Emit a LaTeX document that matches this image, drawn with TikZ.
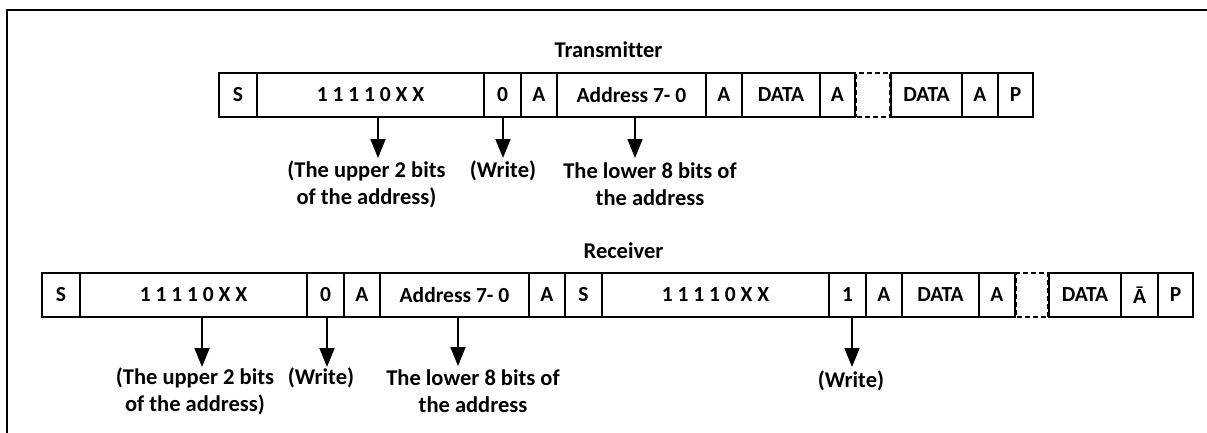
\documentclass[tikz,border=0pt]{standalone}
\usepackage{fontspec}
\setmainfont[Ligatures=CommonOff]{Carlito}
\usetikzlibrary{arrows.meta}
\newcommand\mkcell[6]{\node[cellbox, minimum width={#3-#2}, minimum height={#5-#4}] (#1) at ({(#2+#3)/2},{(#4+#5)/2}) {#6};}
\begin{document}
\begin{tikzpicture}[x=1pt,y=-1pt,
  cellbox/.style={draw, line width=1.5pt, inner sep=0pt, font=\bfseries\fontsize{21.5}{26}\selectfont},
  dashbox/.style={draw, line width=1.5pt, inner sep=0pt, dash pattern=on 5pt off 3pt},
  lbl/.style={align=center, inner sep=0pt, font=\bfseries\fontsize{22.5}{27}\selectfont},
  ttl/.style={inner sep=0pt, font=\bfseries\fontsize{22.5}{27}\selectfont},
  arr/.style={line width=1.8pt, -{Triangle[width=15pt,length=19pt]}}]
\useasboundingbox (0,0) rectangle (1207,432);
\begin{scope}
\clip (0,0) rectangle (1207,432);
\draw[line width=2pt] (7,10) rectangle (1240,470);
\end{scope}
% Transmitter
\node[ttl] (ttitle) at (608.5,50) {Transmitter};
\mkcell{t1}{219}{257}{73}{117}{S}
\mkcell{t2}{257}{484}{73}{117}{1 1 1 1 0 X X}
\mkcell{t3}{484}{521}{73}{117}{0}
\mkcell{t4}{521}{557}{73}{117}{A}
\mkcell{t5}{557}{706}{73}{117}{Address 7- 0}
\mkcell{t6}{706}{742}{73}{117}{A}
\mkcell{t7}{742}{820}{73}{117}{DATA}
\mkcell{t8}{820}{855}{73}{117}{A}
\node[dashbox, minimum width=33.5, minimum height=44] (td) at (873.25,95) {};
\mkcell{t9}{891}{962}{73}{117}{DATA}
\mkcell{t10}{962}{998}{73}{117}{A}
\mkcell{t11}{998}{1033}{73}{117}{P}
\coordinate (ta1) at (378,158);
\coordinate (ta2) at (503,158);
\coordinate (ta3) at (635,158);
\draw[arr] (t2.south -| ta1) -- (ta1);
\draw[arr] (t3.south -| ta2) -- (ta2);
\draw[arr] (t5.south -| ta3) -- (ta3);
\node[lbl] (tl1) at (366.5,184) {(The upper 2 bits\\of the address)};
\node[lbl] (tl2) at (503,171) {(Write)};
\node[lbl] (tl3) at (650,184) {The lower 8 bits of\\the address};
% Receiver
\node[ttl] (rtitle) at (623.5,251) {Receiver};
\mkcell{r1}{42}{80}{273}{317}{S}
\mkcell{r2}{80}{307}{273}{317}{1 1 1 1 0 X X}
\mkcell{r3}{307}{344}{273}{317}{0}
\mkcell{r4}{344}{380}{273}{317}{A}
\mkcell{r5}{380}{529}{273}{317}{Address 7- 0}
\mkcell{r6}{529}{565}{273}{317}{A}
\mkcell{r7}{565}{602}{273}{317}{S}
\mkcell{r8}{602}{829}{273}{317}{1 1 1 1 0 X X}
\mkcell{r9}{829}{866}{273}{317}{1}
\mkcell{r10}{866}{902}{273}{317}{A}
\mkcell{r11}{902}{979}{273}{317}{DATA}
\mkcell{r12}{979}{1015}{273}{317}{A}
\node[dashbox, minimum width=31.5, minimum height=44] (rd) at (1032.25,295) {};
\mkcell{r13}{1049}{1121}{273}{317}{DATA}
\mkcell{r14}{1121}{1158}{273}{317}{Ā}
\mkcell{r15}{1158}{1193}{273}{317}{P}
\coordinate (ra1) at (202,367);
\coordinate (ra2) at (327,367);
\coordinate (ra3) at (458,366);
\coordinate (ra4) at (852,367);
\draw[arr] (r2.south -| ra1) -- (ra1);
\draw[arr] (r3.south -| ra2) -- (ra2);
\draw[arr] (r5.south -| ra3) -- (ra3);
\draw[arr] (r9.south -| ra4) -- (ra4);
\node[lbl] (rl1) at (195,391) {(The upper 2 bits\\of the address)};
\node[lbl] (rl2) at (321,378) {(Write)};
\node[lbl] (rl3) at (473,391) {The lower 8 bits of\\the address};
\node[lbl] (rl4) at (851,381) {(Write)};
\end{tikzpicture}
\end{document}
